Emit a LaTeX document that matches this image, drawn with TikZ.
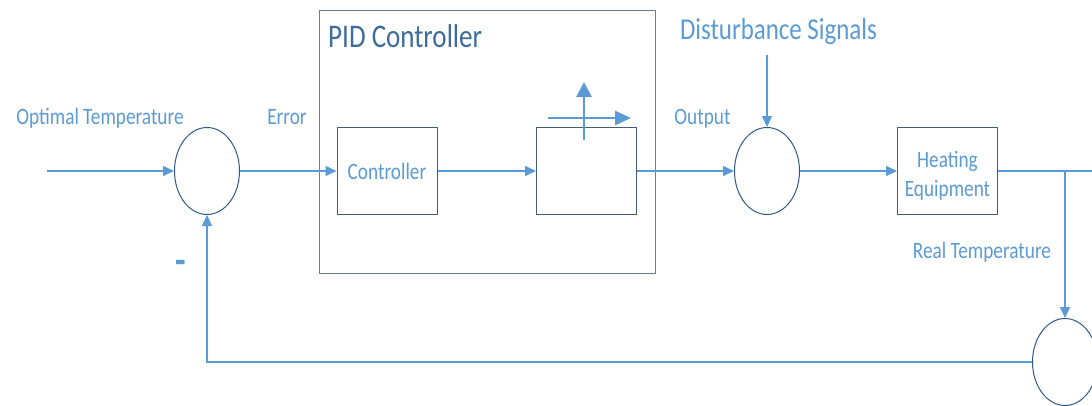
\documentclass[tikz,border=0pt]{standalone}
\usepackage{fontspec}
\usepackage{xcolor}
\usetikzlibrary{arrows.meta,shapes.geometric}

\newfontfamily\labelfont{Carlito}[FakeStretch=0.82]
\definecolor{sigblue}{RGB}{91,155,213}
\definecolor{ringblue}{RGB}{47,88,135}
\definecolor{frameblue}{RGB}{68,92,120}
\definecolor{titleblue}{RGB}{62,108,155}

\begin{document}
\begin{tikzpicture}[x=1pt, y=-1pt, >={Triangle[length=11pt,width=10pt]},
  sig/.style={->, sigblue, line width=1.5pt},
  junction/.style={ellipse, draw=ringblue, line width=1pt, minimum width=65pt, minimum height=87pt, inner sep=0pt},
  block/.style={draw=frameblue, line width=1pt, minimum width=100pt, minimum height=87pt, inner sep=0pt, align=center, text=sigblue, font=\labelfont\fontsize{23.5}{29}\selectfont},
  lbl/.style={text=sigblue, anchor=base, inner sep=0pt, font=\labelfont\fontsize{23.5}{28}\selectfont}]
  \useasboundingbox (0,0) rectangle (1092,405);

  % PID controller frame and its title
  \draw[frameblue!80, line width=1pt] (319,10) rectangle (655,273);
  \node[text=titleblue, anchor=base west, inner sep=0pt, font=\labelfont\fontsize{33}{38}\selectfont] (pidlbl) at (328,47.7) {PID Controller};

  % Summing junctions
  \node[junction] (sum1) at (207,171) {};
  \node[junction] (sum2) at (767,171) {};
  \node[junction] (sens) at (1065,362) {};

  % Blocks
  \node[block] (ctrl) at (387,171) {Controller};
  \node[block] (tune) at (586.5,171) {};
  \node[block] (heat) at (947.5,171) {\raisebox{-5pt}[\height][\depth]{\begin{tabular}{@{}c@{}}Heating\\Equipment\end{tabular}}};

  % Tuning arrows above the second block
  \draw[-{Triangle[length=15pt,width=15pt]}, sigblue, line width=2.8pt] (584,140) -- (584,82);
  \draw[-{Triangle[length=16pt,width=14pt]}, sigblue, line width=2.8pt] (548,118) -- (631,118);

  % Free ends of the signal lines
  \coordinate (in) at (47,171);
  \coordinate (dist) at (767,55);
  \coordinate (tap) at (1065,171);
  \coordinate (out) at (1104,171);

  % Forward path
  \draw[sig] (in) -- (sum1.west);
  \draw[sig] (sum1.east) -- (ctrl.west);
  \draw[sig] (ctrl.east) -- (tune.west);
  \draw[sig] (tune.east) -- (sum2.west);
  \draw[sig] (dist) -- (sum2.north);
  \draw[sig] (sum2.east) -- (heat.west);
  \draw[sig] (heat.east) -- (out);

  % Feedback path
  \draw[sig] (tap) -- (sens.north);
  \draw[sig] (sens.west) -| (sum1.south);

  % Signal labels
  \node[lbl] (setlbl) at (100,124) {Optimal Temperature};
  \node[lbl] (errlbl) at (287,124) {Error};
  \node[lbl] (outlbl) at (702.5,124) {Output};
  \node[lbl] (reallbl) at (982,258.5) {Real Temperature};
  \node[lbl, font=\labelfont\fontsize{30.4}{36}\selectfont] (distlbl) at (778.5,39.5) {Disturbance Signals};
  \node[text=sigblue, inner sep=0pt, font=\labelfont\bfseries\fontsize{42}{48}\selectfont] (minus) at (181,267) {-};
\end{tikzpicture}
\end{document}
